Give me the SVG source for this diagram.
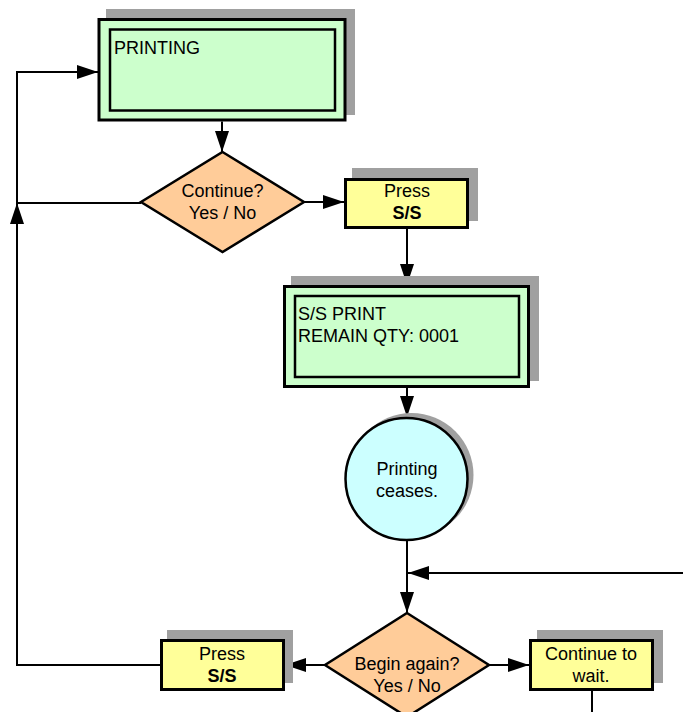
<svg xmlns="http://www.w3.org/2000/svg" width="683" height="712" viewBox="0 0 683 712">
<defs>
<style>
.sh{fill:#A0A0A0;stroke:none}
.g{fill:#CCFFCC;stroke:#000;stroke-width:3}
.gi{fill:#CCFFCC;stroke:#000;stroke-width:2.5}
.y{fill:#FFFF99;stroke:#000;stroke-width:3}
.o{fill:#FFCC99;stroke:#000;stroke-width:2.5}
.c{fill:#CCFFFF;stroke:#000;stroke-width:2.5}
.t{font-family:"Liberation Sans",Arial,sans-serif;font-size:18px;fill:#000}
.m{text-anchor:middle}
.b{font-weight:bold}
.ln{fill:none;stroke:#000;stroke-width:2}
</style>
<marker id="ah" markerUnits="userSpaceOnUse" markerWidth="22" markerHeight="16" viewBox="0 0 22 16" refX="21" refY="8" orient="auto">
<polygon points="0,1 21,8 0,15" fill="#000"/>
</marker>
</defs>
<g id="connectors">
<path class="ln" d="M222,121.5 V152" marker-end="url(#ah)"/>
<path class="ln" d="M304,202 H344" marker-end="url(#ah)"/>
<path class="ln" d="M407,229 V285" marker-end="url(#ah)"/>
<path class="ln" d="M407,388 V417" marker-end="url(#ah)"/>
<path class="ln" d="M407,540 V613" marker-end="url(#ah)"/>
<path class="ln" d="M683,573 H408" marker-end="url(#ah)"/>
<path class="ln" d="M325,665 H285" marker-end="url(#ah)"/>
<path class="ln" d="M489,665 H529" marker-end="url(#ah)"/>
<path class="ln" d="M160,665 H17 V203" marker-end="url(#ah)"/>
<path class="ln" d="M141,203 H17 V72 H98" marker-end="url(#ah)"/>
<path class="ln" d="M592,691 V712"/>
</g>
<g id="printing">
<rect class="sh" x="106" y="9" width="249" height="106"/>
<rect class="g" x="99" y="19.5" width="246" height="100.5"/>
<rect class="gi" x="110" y="29.5" width="225" height="81"/>
<text class="t" x="114" y="54">PRINTING</text>
</g>
<g id="continue">
<polygon class="o" points="222.5,152 304,202 222.5,252 141,202"/>
<text class="t m" x="222.5" y="197">Continue?</text>
<text class="t m" x="222.5" y="219">Yes / No</text>
</g>
<g id="press1">
<rect class="sh" x="352" y="168" width="126" height="53"/>
<rect class="y" x="345.5" y="179.5" width="122" height="48"/>
<text class="t m" x="407" y="197">Press</text>
<text class="t m b" x="407" y="219">S/S</text>
</g>
<g id="ssprint">
<rect class="sh" x="291" y="276" width="248" height="105"/>
<rect class="g" x="284.5" y="286.5" width="244" height="100"/>
<rect class="gi" x="295" y="296" width="224" height="81"/>
<text class="t" x="298" y="320">S/S PRINT</text>
<text class="t" x="298" y="342">REMAIN QTY: 0001</text>
</g>
<g id="ceases">
<circle class="sh" cx="411.5" cy="475" r="62"/>
<circle class="c" cx="406.5" cy="479" r="61"/>
<text class="t m" x="407" y="475">Printing</text>
<text class="t m" x="407" y="497">ceases.</text>
</g>
<g id="beginagain">
<polygon class="o" points="407,613 489,665 407,717 325,665"/>
<text class="t m" x="407" y="670">Begin again?</text>
<text class="t m" x="407" y="692">Yes / No</text>
</g>
<g id="press2">
<rect class="sh" x="167" y="630" width="126" height="53"/>
<rect class="y" x="161.5" y="640.5" width="122" height="49"/>
<text class="t m" x="222" y="660">Press</text>
<text class="t m b" x="222" y="682">S/S</text>
</g>
<g id="wait">
<rect class="sh" x="537" y="630" width="126" height="53"/>
<rect class="y" x="530.5" y="640.5" width="122" height="49"/>
<text class="t m" x="591" y="660">Continue to</text>
<text class="t m" x="591" y="682">wait.</text>
</g>
</svg>
